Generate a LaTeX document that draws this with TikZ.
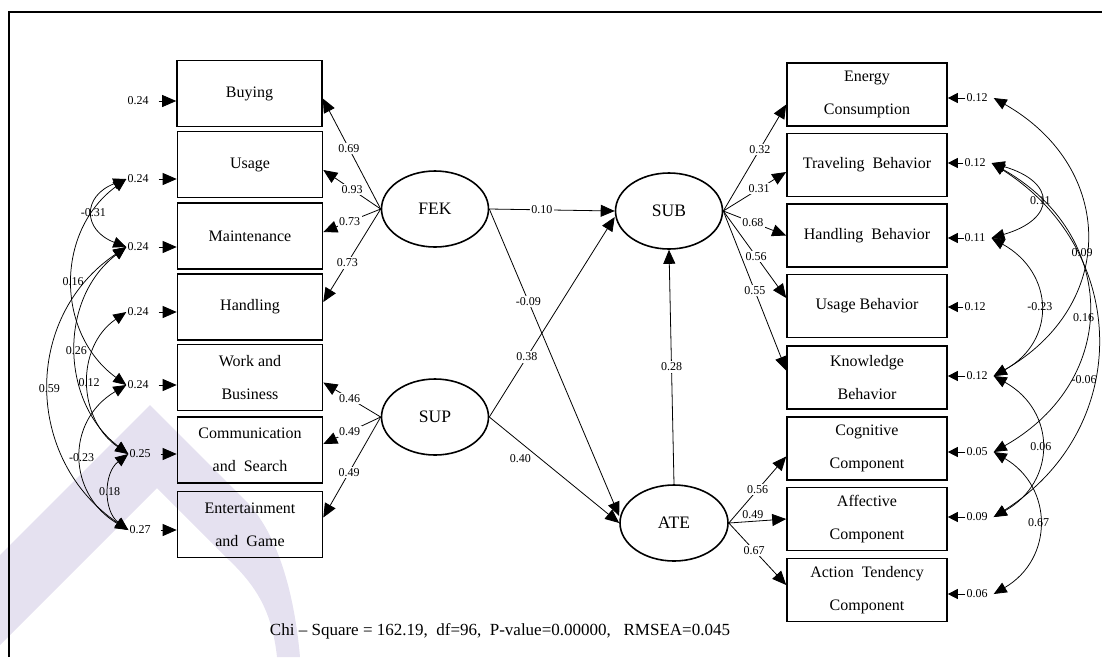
\documentclass[tikz,border=0pt]{standalone}
\usepackage{fontspec}
\setmainfont{Liberation Serif}
\usetikzlibrary{arrows.meta,calc,shapes.geometric}
\definecolor{wm}{RGB}{229,225,240}
\begin{document}
\begin{tikzpicture}[x=1pt,y=-1pt,
  obsbox/.style={draw, line width=1.6pt, inner sep=0pt, align=center,
    font=\fontsize{16}{33}\selectfont},
  obsL/.style={obsbox, minimum width=145pt, minimum height=66pt},
  obsR/.style={obsbox, minimum width=160pt, minimum height=63pt},
  latent/.style={ellipse, draw, line width=1.6pt, minimum width=107pt,
    minimum height=76pt, inner sep=0pt, font=\fontsize{17.5}{20}\selectfont},
  numlbl/.style={font=\fontsize{12}{14}\selectfont, inner sep=1pt},
  coef/.style={numlbl, fill=white, inner sep=1.5pt},
  arrowhd/.style={-{Triangle[length=14pt,width=12pt]}},
  effect/.style={line width=0.8pt, arrowhd},
  errpath/.style={line width=0.8pt, arrowhd},
  errR/.style={line width=0.7pt, -{Triangle[length=10pt,width=10pt]}},
  covpath/.style={line width=0.75pt,
    {Triangle[length=13pt,width=11pt]}-{Triangle[length=13pt,width=11pt]}},
]
\useasboundingbox (0,0) rectangle (1102,657);

% background logo
\fill[wm] (0,555) -- (150,405) -- (245,500)
  .. controls (280,535) and (295,600) .. (300,657) -- (277,657)
  .. controls (272,610) and (255,585) .. (229,560) -- (157,488) -- (0,645) -- cycle;

% frame
\draw[line width=2pt] (9,657) -- (9,12) -- (1102,12);

% observed indicators, left
\node[obsL] (b1) at (249.5,93.5) {Buying};
\node[obsL] (b2) at (250,164.5) {Usage};
\node[obsL] (b3) at (250,236) {Maintenance};
\node[obsL] (b4) at (250,307) {Handling};
\node[obsL] (b5) at (250,377.5) {Work and\\Business};
\node[obsL] (b6) at (250,450) {Communication\\and\ \ Search};
\node[obsL] (b7) at (250,524.5) {Entertainment\\and\ \ Game};

% observed indicators, right
\node[obsR] (y1) at (867,94.5) {Energy\\Consumption};
\node[obsR] (y2) at (867,165) {Traveling\ \ Behavior};
\node[obsR] (y3) at (867,235.5) {Handling\ \ Behavior};
\node[obsR] (y4) at (867,306) {Usage\ Behavior};
\node[obsR] (y5) at (867,377.5) {Knowledge\\Behavior};
\node[obsR] (y6) at (867,448.5) {Cognitive\\Component};
\node[obsR] (y7) at (867,519) {Affective\\Component};
\node[obsR] (y8) at (867,590) {Action\ \ Tendency\\Component};

% latent variables
\node[latent] (fek) at (435,209) {FEK};
\node[latent] (sup) at (435,417) {SUP};
\node[latent] (sub) at (669,211) {SUB};
\node[latent, minimum width=108pt] (ate) at (674,523) {ATE};

% loadings of FEK and SUP
\draw[effect] (fek.west) -- ([yshift=-5pt]b1.east) node[coef,pos=0.55] {0.69};
\draw[effect] (fek.west) -- ([yshift=-5.5pt]b2.east) node[coef,pos=0.5] {0.93};
\draw[effect] (fek.west) -- ([yshift=4pt]b3.east) node[coef,pos=0.54] {0.73};
\draw[effect] (fek.west) -- ([yshift=5pt]b4.east) node[coef,pos=0.58] {0.73};
\draw[effect] (sup.west) -- ([yshift=-5pt]b5.east) node[coef,pos=0.54] {0.46};
\draw[effect] (sup.west) -- ([yshift=6pt]b6.east) node[coef,pos=0.54] {0.49};
\draw[effect] (sup.west) -- ([yshift=7pt]b7.east) node[coef,pos=0.55] {0.49};

% structural paths
\draw[effect] (fek.east) -- (sub.west) node[coef,pos=0.42] {0.10};
\draw[effect] (fek.east) -- ([yshift=7pt]ate.west) node[coef,pos=0.3] {-0.09};
\draw[effect] (sup.east) -- ([yshift=-6pt]sub.west) node[coef,pos=0.3] {0.38};
\draw[effect] (sup.east) -- (ate.west) node[numlbl,pos=0.24,yshift=-16pt] {0.40};
\draw[effect] (ate.north) -- (sub.south) node[coef,pos=0.5] {0.28};

% loadings of SUB and ATE
\draw[effect] (sub.east) -- ([yshift=-10pt]y1.west) node[coef,pos=0.58] {0.32};
\draw[effect] (sub.east) -- ([yshift=-7pt]y2.west) node[coef,pos=0.57] {0.31};
\draw[effect] (sub.east) -- (y3.west) node[coef,pos=0.47] {0.68};
\draw[effect] (sub.east) -- ([yshift=8pt]y4.west) node[coef,pos=0.52] {0.56};
\draw[effect] (sub.east) -- ([yshift=7pt]y5.west) node[coef,pos=0.5] {0.55};
\draw[effect] (ate.east) -- ([yshift=-8pt]y6.west) node[coef,pos=0.5] {0.56};
\draw[effect] (ate.east) -- (y7.west) node[numlbl,pos=0.42,yshift=7pt] {0.49};
\draw[effect] (ate.east) -- ([yshift=5pt]y8.west) node[coef,pos=0.44] {0.67};

% error variances, left
\node[numlbl] (e1) at (138,101) {0.24};
\node[numlbl] (e2) at (138,179) {0.24};
\node[numlbl] (e3) at (138,247) {0.24};
\node[numlbl] (e4) at (138,312) {0.24};
\node[numlbl] (e5) at (138,385) {0.24};
\node[numlbl] (e6) at (140,454) {0.25};
\node[numlbl] (e7) at (140,530) {0.27};
\foreach \e/\b in {e1/b1,e2/b2,e3/b3,e4/b4,e5/b5,e6/b6,e7/b7}
  \draw[errpath] ([xshift=9pt]\e.east) -- (\e -| \b.west);

% error variances, right
\node[numlbl] (r1) at (977,98) {0.12};
\node[numlbl] (r2) at (975,163) {0.12};
\node[numlbl] (r3) at (975,238) {0.11};
\node[numlbl] (r4) at (975,307) {0.12};
\node[numlbl] (r5) at (977,376) {0.12};
\node[numlbl] (r6) at (977,452) {0.05};
\node[numlbl] (r7) at (977,517) {0.09};
\node[numlbl] (r8) at (977,594) {0.06};
\foreach \r/\y in {r1/y1,r2/y2,r3/y3,r4/y4,r5/y5,r6/y6,r7/y7,r8/y8}
  \draw[errR] (\r.west) -- (\r -| \y.east);

% error covariances, left
\draw[covpath] (e2.west) .. controls +(-44,17) and +(-44,-17) .. (e3.west) node[numlbl,pos=0.5] {-0.31};
\draw[covpath] (e2.west) .. controls +(-71,52) and +(-71,-52) .. (e5.west) node[numlbl,pos=0.5] {0.16};
\draw[covpath] (e3.west) .. controls +(-68,52) and +(-68,-52) .. (e6.west) node[numlbl,pos=0.5] {0.26};
\draw[covpath] (e3.west) .. controls +(-104,70) and +(-104,-70) .. (e7.west) node[numlbl,pos=0.5] {0.59};
\draw[covpath] (e4.west) .. controls +(-51,35) and +(-51,-35) .. (e6.west) node[numlbl,pos=0.5] {0.12};
\draw[covpath] (e5.west) .. controls +(-61,36) and +(-61,-36) .. (e7.west) node[numlbl,pos=0.5] {-0.23};
\draw[covpath] (e6.west) .. controls +(-25,19) and +(-25,-19) .. (e7.west) node[numlbl,pos=0.5] {0.18};

% error covariances, right
\draw[covpath] ([xshift=5pt]r2.east) .. controls +(65,19) and +(65,-19) .. ([xshift=5pt]r3.east) node[numlbl,pos=0.5] {0.11};
\draw[covpath] ([xshift=5pt]r1.east) .. controls +(123,70) and +(123,-70) .. ([xshift=5pt]r5.east) node[numlbl,pos=0.55,xshift=-3pt] {0.09};
\draw[covpath] ([xshift=5pt]r3.east) .. controls +(63,35) and +(63,-35) .. ([xshift=5pt]r5.east) node[numlbl,pos=0.5] {-0.23};
\draw[covpath] ([xshift=5pt]r2.east) .. controls +(127,72) and +(127,-72) .. ([xshift=5pt]r6.east) node[numlbl,pos=0.53,xshift=-4pt] {0.16};
\draw[covpath] ([xshift=5pt]r2.east) .. controls +(139,88) and +(139,-88) .. ([xshift=5pt]r7.east) node[numlbl,pos=0.6,xshift=-9pt] {-0.06};
\draw[covpath] ([xshift=5pt]r5.east) .. controls +(63,35) and +(63,-35) .. ([xshift=5pt]r7.east) node[numlbl,pos=0.5] {0.06};
\draw[covpath] ([xshift=5pt]r6.east) .. controls +(60,35) and +(60,-35) .. ([xshift=5pt]r8.east) node[numlbl,pos=0.5] {0.67};

% fit statistics
\node[font=\fontsize{17}{20}\selectfont] (fit) at (500,631)
  {Chi – Square = 162.19,\ \ df=96,\ \ P-value=0.00000,\ \ \ RMSEA=0.045};
\end{tikzpicture}
\end{document}
